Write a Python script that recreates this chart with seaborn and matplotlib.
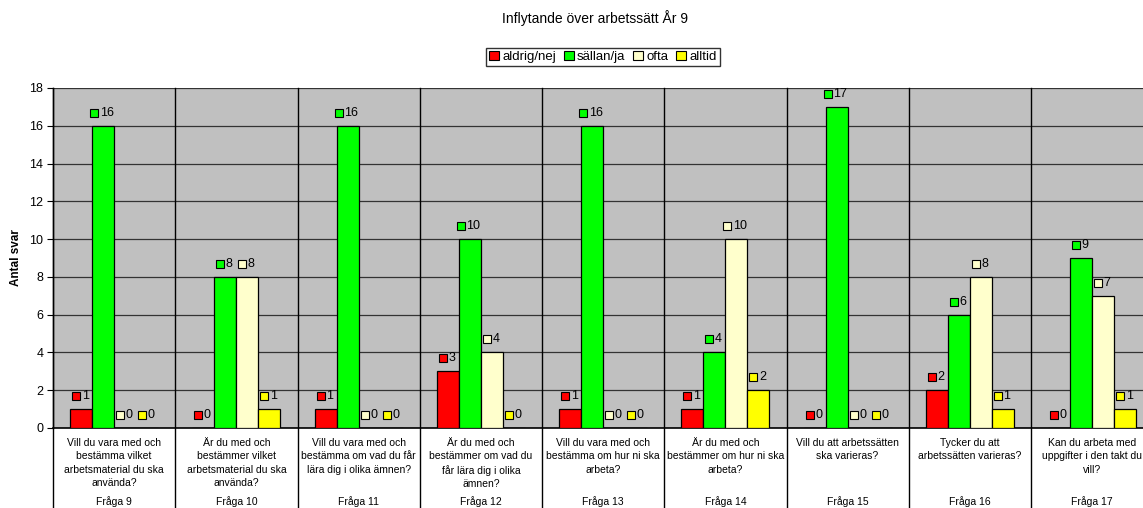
import numpy as np
import pandas as pd
import matplotlib
matplotlib.use("Agg")
import matplotlib.pyplot as plt
import matplotlib.transforms as mtrans
import seaborn as sns

# data
fragor = ["Fråga 9", "Fråga 10", "Fråga 11", "Fråga 12", "Fråga 13",
          "Fråga 14", "Fråga 15", "Fråga 16", "Fråga 17"]
questions = [
    "Vill du vara med och\nbestämma vilket\narbetsmaterial du ska\nanvända?",
    "Är du med och\nbestämmer vilket\narbetsmaterial du ska\nanvända?",
    "Vill du vara med och\nbestämma om vad du får\nlära dig i olika ämnen?",
    "Är du med och\nbestämmer om vad du\nfår lära dig i olika\nämnen?",
    "Vill du vara med och\nbestämma om hur ni ska\narbeta?",
    "Är du med och\nbestämmer om hur ni ska\narbeta?",
    "Vill du att arbetssätten\nska varieras?",
    "Tycker du att\narbetssätten varieras?",
    "Kan du arbeta med\nuppgifter i den takt du\nvill?",
]
series = ["aldrig/nej", "sällan/ja", "ofta", "alltid"]
aldrig = [1, 0, 1, 3, 1, 1, 0, 2, 0]
sallan = [16, 8, 16, 10, 16, 4, 17, 6, 9]
ofta = [0, 8, 0, 4, 0, 10, 0, 8, 7]
alltid = [0, 1, 0, 0, 0, 2, 0, 1, 1]
colors = ["#FF0000", "#00FF00", "#FFFFCC", "#FFFF00"]

df = pd.DataFrame({"fraga": fragor * 4,
                   "serie": np.repeat(series, len(fragor)),
                   "antal": aldrig + sallan + ofta + alltid})

plt.rcParams['font.family'] = ['Liberation Sans', 'DejaVu Sans']
fig = plt.figure(figsize=(11.43, 5.08), dpi=100)
W, H = 1143, 508
ax = fig.add_axes([53 / W, 80 / H, 9 * 122.25 / W, 340 / H])
ax.set_facecolor("#C0C0C0")

sns.barplot(data=df, x="fraga", y="antal", hue="serie", palette=colors,
            saturation=1, width=0.72, edgecolor="black", linewidth=0.9,
            ax=ax, legend=False, zorder=3)

ax.set_xlim(-0.5, len(fragor) - 0.5)
ax.set_ylim(0, 18)
ax.set_yticks(range(0, 19, 2))
ax.tick_params(axis="y", labelsize=9, length=4, width=0.8, pad=3)
ax.set_xticks([])
ax.set_xlabel("")
ax.set_ylabel("Antal svar", fontsize=8.5, fontweight="bold", labelpad=5)
ax.yaxis.grid(True, color="#333333", linewidth=0.9)
ax.set_axisbelow(True)
for s in ["top", "right"]:
    ax.spines[s].set_visible(False)
ax.spines["left"].set_linewidth(1)
ax.spines["bottom"].set_linewidth(1.2)

# category separators, running down through the label boxes
trans = mtrans.blended_transform_factory(ax.transData, ax.transAxes)
for b in np.arange(-0.5, len(fragor), 1.0):
    ax.plot([b, b], [-0.3, 1], color="black", linewidth=1,
            transform=trans, clip_on=False, zorder=2)

# category labels
for i, (q, f) in enumerate(zip(questions, fragor)):
    ax.text(i, -0.03, q, transform=trans, ha="center", va="top",
            fontsize=7.5, linespacing=1.4)
    ax.text(i, -0.217, f, transform=trans, ha="center", va="center",
            fontsize=7.5)

# data labels with legend key squares
for k, (vals, c) in enumerate(zip([aldrig, sallan, ofta, alltid], colors)):
    for i, v in enumerate(vals):
        x = i + (k - 1.5) * 0.18
        nd = len(str(v))
        mx = -5 - 4 * (nd - 1)
        ax.plot([x], [v], marker="s", markersize=5.8, markerfacecolor=c,
                markeredgecolor="black", markeredgewidth=0.8, zorder=5,
                transform=ax.transData + mtrans.Affine2D().translate(mx, 13),
                clip_on=False)
        ax.annotate(str(v), xy=(x, v), xytext=(mx + 5.5, 13),
                    textcoords="offset pixels", ha="left", va="center",
                    fontsize=9, zorder=5)

# legend
handles = [plt.Rectangle((0, 0), 1, 1, facecolor=c, edgecolor="black",
                         linewidth=0.8) for c in colors]
fig.legend(handles, series, loc="center", bbox_to_anchor=(603 / W, 1 - 57 / H),
           ncol=4, fontsize=9.5, frameon=True, fancybox=False,
           edgecolor="black", handlelength=0.75, handleheight=0.75,
           handletextpad=0.25, columnspacing=0.6, borderpad=0.2,
           borderaxespad=0)

fig.text(595 / W, 1 - 18 / H, "Inflytande över arbetssätt År 9",
         ha="center", va="center", fontsize=10)

fig.savefig("out.png", dpi=100)
